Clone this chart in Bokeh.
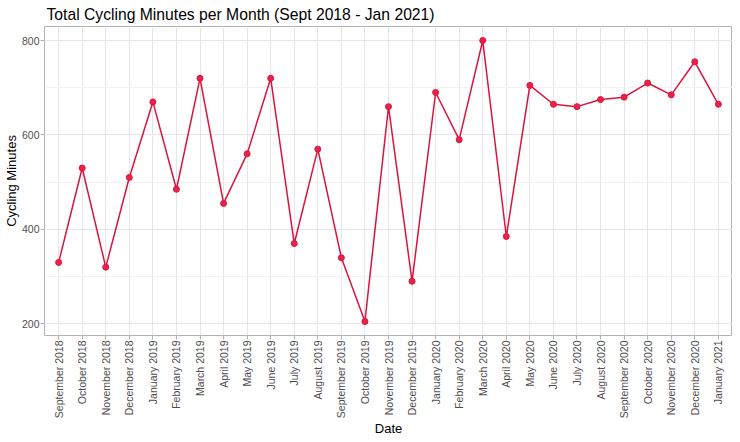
import math
from bokeh.plotting import figure
from bokeh.models import Range1d, FixedTicker, ColumnDataSource
from bokeh.embed import file_html
from bokeh.resources import INLINE

months = ["September 2018", "October 2018", "November 2018", "December 2018",
          "January 2019", "February 2019", "March 2019", "April 2019", "May 2019",
          "June 2019", "July 2019", "August 2019", "September 2019", "October 2019",
          "November 2019", "December 2019", "January 2020", "February 2020",
          "March 2020", "April 2020", "May 2020", "June 2020", "July 2020",
          "August 2020", "September 2020", "October 2020", "November 2020",
          "December 2020", "January 2021"]
minutes = [330, 530, 320, 510, 670, 485, 720, 455, 560, 720, 370, 570, 340, 205,
           660, 290, 690, 590, 800, 385, 705, 665, 660, 675, 680, 710, 685, 755, 665]
y_ticks = [200, 400, 600, 800]
y_minor = [300, 500, 700]

idx = list(range(len(months)))
src = ColumnDataSource(dict(x=idx, y=minutes, month=months))

span = max(minutes) - min(minutes)
ylo = min(minutes) - 0.05 * span
yhi = max(minutes) + 0.05 * span

FONT = "Liberation Sans"

p = figure(frame_width=688, frame_height=309, output_backend="svg", toolbar_location=None,
           x_range=Range1d(-0.6, len(months) - 1 + 0.6),
           y_range=Range1d(ylo, yhi),
           min_border_left=37, min_border_right=0, min_border_top=24, min_border_bottom=0,
           title="Total Cycling Minutes per Month (Sept 2018 - Jan 2021)")

p.title.text_font = FONT
p.title.text_font_size = "15.7px"
p.title.text_font_style = "normal"
p.title.text_color = "#000000"
p.title.standoff = 7
p.title.offset = 2

p.background_fill_color = "#ffffff"
p.border_fill_color = "#ffffff"
p.outline_line_color = "#b3b3b3"
p.outline_line_width = 1

xt = FixedTicker(ticks=idx)
yt = FixedTicker(ticks=y_ticks, minor_ticks=y_minor)
p.xaxis.ticker = xt
p.yaxis.ticker = yt
p.xaxis.major_label_overrides = {i: m for i, m in zip(idx, months)}
p.xaxis.major_label_orientation = math.pi / 2

for ax in (p.xaxis, p.yaxis):
    ax.axis_line_color = None
    ax.major_tick_line_color = "#b3b3b3"
    ax.major_tick_out = 4
    ax.major_tick_in = 0
    ax.minor_tick_line_color = None
    ax.major_label_text_font = FONT
    ax.major_label_text_font_size = "10.5px"
    ax.major_label_text_color = "#4d4d4d"
    ax.major_label_standoff = 1
    ax.axis_label_text_font = FONT
    ax.axis_label_text_font_size = "13px"
    ax.axis_label_text_font_style = "normal"
    ax.axis_label_text_color = "#000000"
    ax.axis_label_standoff = 0

p.xaxis.axis_label = "Date"
p.yaxis.axis_label = "Cycling Minutes"

p.xgrid.ticker = xt
p.ygrid.ticker = yt
p.xgrid.grid_line_color = "#e8e4ec"
p.ygrid.grid_line_color = "#e8e4ec"
p.ygrid.minor_grid_line_color = "#f3f0f5"

p.line("x", "y", source=src, line_color="#dc143c", line_width=1.5)
p.scatter("x", "y", source=src, size=6, fill_color="#e8234b", line_color="#dc143c",
          line_width=1)

open("out.html", "w").write(file_html(p, INLINE))
